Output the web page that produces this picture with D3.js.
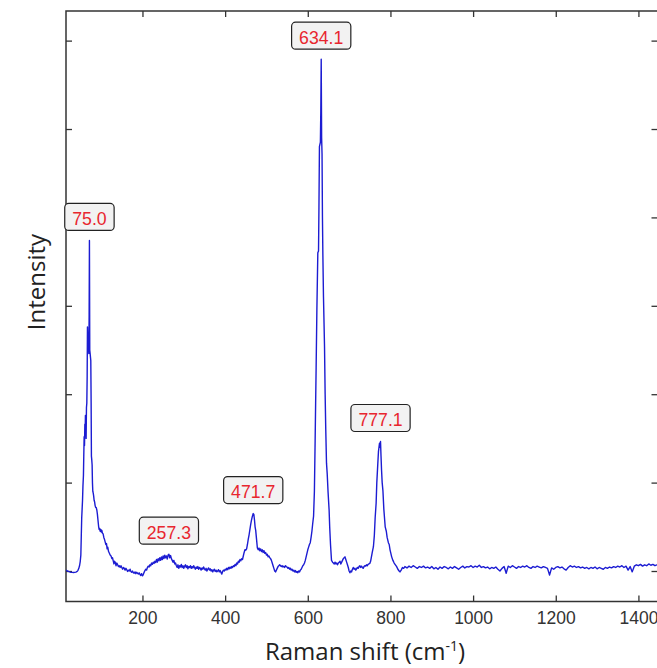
<!DOCTYPE html>
<html>
<head>
<meta charset="utf-8">
<script src="https://cdn.jsdelivr.net/npm/d3@7"></script>
<style>
  body { margin: 0; background: #fff; }
  svg { display: block; }
  .tick line { stroke: #333; stroke-width: 1.3; }
  .tick text { font-family: "Liberation Sans", Arial, sans-serif; font-size: 17.5px; fill: #333; }
</style>
</head>
<body>
<div id="chart"></div>
<script>
// Raman spectrum, values
var ramanShift = [
  15, 18, 21, 24, 27, 30, 33, 36, 39, 42, 44, 46, 48, 49.5, 50.9, 52, 53, 54, 55, 56, 57.2, 58, 58.9, 59.8,
  60.6, 61.3, 62, 62.8, 63.7, 64.5, 65.4, 66.2, 66.9, 67.7, 68.5, 69.3, 70.2, 71, 71.7, 72.5, 73.4, 74.2,
  75, 75.8, 76.5, 77.3, 78.2, 79, 79.9, 80.9, 81.9, 83, 84.3, 85.5, 86.7, 88, 89.6, 91, 92.7, 94, 95.2,
  96.5, 97.6, 99, 100.5, 101.7, 103, 104.8, 106.5, 108, 109.7, 111.5, 113, 114.5, 116, 118, 120, 121.8,
  124, 126, 127.5, 129, 131, 132.5, 134, 136, 138, 140, 142, 144, 146, 148, 150, 152, 154, 156, 158, 160,
  162, 164, 166, 168, 170, 172, 174, 176, 178, 180, 182, 184, 186, 188, 190, 192, 194, 196, 198, 200,
  202, 204, 206, 208, 210, 212, 214, 216, 218, 220, 222, 224, 226, 228, 230, 232, 234, 236, 238, 240,
  242, 244, 246, 248, 250, 252, 254, 256, 258, 260, 262, 264, 266, 268, 270, 272, 274, 276, 278, 280,
  282, 284, 286, 288, 290, 292, 294, 296, 298, 300, 302, 304, 306, 308, 310, 312, 314, 316, 318, 320,
  322, 324, 326, 328, 330, 332, 334, 336, 338, 340, 342, 344, 346, 348, 350, 352, 354, 356, 358, 360,
  362, 364, 366, 368, 370, 372, 374, 376, 378, 380, 382, 384, 386, 388, 390, 392, 394, 396, 398, 400,
  402, 404, 406, 408, 410, 412, 414, 416, 418, 420, 422, 424, 426, 428, 430, 432, 434, 436, 438, 440,
  442, 444, 446, 448, 450, 452, 454, 456, 458, 460, 462, 464, 466, 468, 469.5, 471, 472.5, 474, 476, 478,
  480, 482, 484, 486, 488, 490, 492, 494, 496, 498, 500, 502, 504, 506, 508, 510, 512, 514, 516, 518,
  520, 522, 524, 526, 528, 530, 532, 534, 536, 538, 540, 542, 544, 546, 548, 550, 552, 554, 556, 558,
  560, 562, 564, 566, 568, 570, 572, 574, 576, 578, 580, 582, 584, 586, 588, 590, 592, 594, 596, 598,
  600, 602, 604, 606, 608, 610, 612, 614, 616, 617.8, 619, 620.2, 622, 624.3, 626, 627, 628.2, 630.5,
  631.5, 632.5, 633.5, 634.5, 635.5, 636.5, 638, 640.5, 642, 643.5, 645.3, 647, 649, 651.6, 653, 655,
  657.4, 660, 662, 664, 666, 668, 670, 672, 674, 676, 678, 680, 682, 684, 686, 688, 690, 692, 694, 696,
  698, 700, 702, 704, 706, 708, 710, 712, 714, 716, 718, 720, 722, 724, 726, 728, 730, 732, 734, 736,
  738, 740, 742, 744, 746, 748, 750, 752, 754, 756, 758.8, 761, 763, 765.4, 767, 769.5, 771, 773.5, 775,
  776, 777.2, 778.5, 780, 781.8, 784, 787.3, 790, 792, 795, 797, 799, 801, 803, 806, 809, 812, 815, 818,
  821, 823, 826, 829, 832,
  835, 840, 845, 850, 855, 860, 865, 870, 875, 880, 885, 890, 895, 900, 905, 910, 915, 920, 925, 930,
  935, 940, 945, 950, 955, 960, 965, 970, 975, 980, 985, 990, 995, 1000, 1005, 1010, 1015, 1020, 1025,
  1030, 1035, 1040, 1045, 1050, 1055, 1060, 1065, 1070, 1075, 1080, 1085, 1090, 1095, 1100, 1105, 1110,
  1115, 1120, 1125, 1130, 1135, 1140, 1145, 1150, 1155, 1160, 1165, 1170, 1175, 1180, 1185, 1190, 1195,
  1200, 1205, 1210, 1215, 1220, 1225, 1230, 1235, 1240, 1245, 1250, 1255, 1260, 1265, 1270, 1275, 1280,
  1285, 1290, 1295, 1300, 1305, 1310, 1315, 1320, 1325, 1330, 1335, 1340, 1345, 1350, 1355, 1360, 1365,
  1370, 1375, 1380, 1385, 1390, 1395, 1400, 1405, 1410, 1415, 1420, 1425, 1430, 1435, 1440, 1445, 1451
];

var intensity = [
  1011, 1000, 995, 990, 985, 984, 983, 985, 988, 995, 1008, 1030, 1065, 1110, 1180, 1400, 1600, 1700, 1800, 1960, 2080, 2300, 2520, 2420,
  2660, 2550, 2760, 2700, 2500, 2850, 2900, 3200, 3760, 3620, 3700, 3550, 3460, 3900, 4740, 3500, 3460, 3420,
  3380, 2900, 2300, 2260, 2200, 2000, 1900, 1880, 1850, 1800, 1780, 1740, 1720, 1720, 1690, 1640, 1560, 1500, 1470,
  1480, 1450, 1470, 1440, 1460, 1430, 1420, 1380, 1360, 1330, 1300, 1310, 1250, 1270, 1220, 1200, 1180,
  1170, 1140, 1150, 1120, 1080, 1110, 1100, 1060, 1090, 1070, 1050, 1060, 1040, 1060, 1040, 1020, 1040, 1030, 1010, 1030,
  1015, 995, 1010, 1000, 1020, 995, 985, 1000, 980, 975, 990, 970, 985, 975, 965, 980, 960, 950, 970, 945,
  960, 985, 1005, 1020, 1010, 1040, 1055, 1045, 1070, 1060, 1090, 1075, 1100, 1085, 1110, 1095, 1130, 1100, 1140, 1115,
  1150, 1120, 1160, 1130, 1170, 1140, 1180, 1150, 1170, 1135, 1180, 1190, 1150, 1175, 1140, 1120, 1100, 1120, 1080, 1090,
  1060, 1040, 1070, 1030, 1060, 1045, 1075, 1040, 1060, 1030, 1055, 1070, 1040, 1060, 1025, 1050, 1040, 1060, 1030, 1050,
  1035, 1060, 1040, 1020, 1045, 1030, 1050, 1020, 1040, 1030, 1010, 1035, 1020, 1045, 1025, 1010, 1030, 1000, 1020, 1035,
  1010, 1025, 1000, 1015, 990, 1010, 1020, 995, 1010, 990, 1000, 1015, 990, 1005, 985, 965, 995, 1010, 1000, 1020,
  1010, 1030, 1015, 1040, 1025, 1045, 1030, 1050, 1040, 1060, 1050, 1075, 1060, 1090, 1080, 1110, 1100, 1130, 1115, 1140,
  1130, 1170, 1210, 1240, 1235, 1250, 1300, 1360, 1410, 1470, 1530, 1580, 1620, 1650, 1640, 1580, 1500, 1460, 1360, 1260,
  1240, 1260, 1230, 1250, 1220, 1240, 1210, 1230, 1200, 1210, 1180, 1190, 1160, 1170, 1150, 1140, 1120, 1090, 1060, 1030,
  1000, 990, 1010, 1030, 1050, 1060, 1070, 1060, 1050, 1060, 1045, 1055, 1040, 1060, 1050, 1045, 1030, 1040, 1020, 1030,
  1010, 1020, 1000, 1010, 990, 1005, 985, 995, 980, 1000, 990, 1010, 1020, 1040, 1060, 1070, 1090, 1120, 1160, 1200,
  1240, 1270, 1300, 1320, 1380, 1450, 1540, 1620, 1900, 2480, 2900, 3300, 3950, 4600, 4620, 5100, 5800, 5850,
  6200, 6790, 5900, 5720, 5000, 4580, 4100, 3540, 3000, 2600, 2220, 2100, 1900, 1690, 1500, 1300,
  1120, 1100, 1090, 1080, 1100, 1080, 1090, 1070, 1090, 1100, 1110, 1080, 1100, 1120, 1140, 1150, 1160, 1130, 1100, 1070,
  1040, 1000, 980, 1000, 990, 1020, 1040, 1020, 1030, 1010, 1025, 1040, 1030, 1050, 1060, 1040, 1055, 1040, 1030, 1050,
  1060, 1055, 1070, 1060, 1075, 1080, 1085, 1110, 1160, 1210, 1275, 1400, 1600, 1770, 2000, 2220, 2350, 2445, 2400,
  2465, 2300, 2140, 2000, 1910, 1700, 1500, 1450, 1380, 1320, 1300, 1240, 1200, 1160, 1120, 1090, 1070, 1050, 1020,
  1000, 990, 1010, 1040, 1030,
  1050, 1035, 1055, 1040, 1060, 1045, 1030, 1050, 1040, 1055, 1035, 1045, 1030, 1050, 1025, 1040, 1020, 1045, 1030, 1050,
  1040, 1025, 1045, 1030, 1050, 1035, 1020, 1040, 1055, 1035, 1050, 1045, 1060, 1040, 1055, 1045, 1065, 1040, 1050,
  1035, 1045, 1025, 1040, 1030, 1045, 1020, 1000, 1030, 1050, 975, 1055, 1040, 1060, 1045, 1030, 1050,
  1040, 1055, 1045, 1060, 1040, 1030, 1050, 1040, 1055, 1045, 1035, 1050, 1040, 1030, 955, 1035, 1020,
  1040, 1050, 1035, 1045, 1025, 1010, 1040, 1060, 1045, 1055, 1040, 1050, 1035, 1045, 1030, 1040, 1025,
  1040, 1030, 1045, 1025, 1040, 1030, 1020, 1040, 1030, 1045, 1035, 1050, 1040, 1055, 1045, 1060, 1040,
  1055, 1010, 1050, 990, 1055, 1070, 1060, 1075, 1055, 1070, 1060, 1080, 1065, 1075, 1060, 1070, 1065
];

var peakLabels = [75.0, 257.3, 471.7, 634.1, 777.1];
var xTickValues = [200, 400, 600, 800, 1000, 1200, 1400];
var yTickValues = [1000, 2000, 3000, 4000, 5000, 6000, 7000];

var width = 657, height = 668;
var plotLeft = 66, plotRight = 659.5, plotTop = 11, plotBottom = 601.5;

var svg = d3.select("#chart").append("svg")
    .attr("width", width)
    .attr("height", height);

var x = d3.scaleLinear().domain([15, 1451]).range([plotLeft, plotRight]);
var y = d3.scaleLinear().domain([655, 7335]).range([plotBottom, plotTop]);

// ticks on all four sides, pointing inward
svg.append("g")
    .attr("transform", "translate(0," + plotBottom + ")")
    .call(d3.axisBottom(x).tickValues(xTickValues).tickSize(-6).tickPadding(10).tickFormat(d3.format("d")));
svg.append("g")
    .attr("transform", "translate(0," + plotTop + ")")
    .call(d3.axisTop(x).tickValues(xTickValues).tickSize(-6).tickFormat(""));
svg.append("g")
    .attr("transform", "translate(" + plotLeft + ",0)")
    .call(d3.axisLeft(y).tickValues(yTickValues).tickSize(-6).tickFormat(""));
svg.append("g")
    .attr("transform", "translate(" + plotRight + ",0)")
    .call(d3.axisRight(y).tickValues(yTickValues).tickSize(-8).tickFormat(""));
svg.selectAll(".domain").remove();

svg.append("rect")
    .attr("x", plotLeft).attr("y", plotTop)
    .attr("width", plotRight - plotLeft).attr("height", plotBottom - plotTop)
    .attr("fill", "none")
    .attr("stroke", "#333")
    .attr("stroke-width", 1.5);

svg.append("clipPath").attr("id", "plotclip")
  .append("rect")
    .attr("x", plotLeft).attr("y", plotTop)
    .attr("width", plotRight - plotLeft).attr("height", plotBottom - plotTop);

var spectrum = ramanShift.map(function(s, i) { return [s, intensity[i]]; });

var line = d3.line()
    .x(function(d) { return x(d[0]); })
    .y(function(d) { return y(d[1]); });

svg.append("path")
    .datum(spectrum)
    .attr("clip-path", "url(#plotclip)")
    .attr("fill", "none")
    .attr("stroke", "#1c1cd2")
    .attr("stroke-width", 1.4)
    .attr("stroke-linejoin", "round")
    .attr("d", line);

// peak labels sit just above the highest point near each labelled shift
peakLabels.forEach(function(p) {
    var near = spectrum.filter(function(d) { return Math.abs(d[0] - p) <= 12; });
    var best = d3.greatest(near, function(d) { return d[1]; });
    var cx = x(best[0]), by = y(best[1]) - 10;

    var g = svg.append("g");
    var rect = g.append("rect");
    var txt = g.append("text")
        .attr("x", cx)
        .attr("y", by - 5.5)
        .attr("text-anchor", "middle")
        .style("font-family", "'Liberation Sans', Arial, sans-serif")
        .style("font-size", "19px")
        .attr("fill", "#e8262e")
        .text(p.toFixed(1));
    var w = txt.node().getComputedTextLength() * 0.93;
    txt.attr("textLength", w).attr("lengthAdjust", "spacingAndGlyphs");
    var bw = w + 15;
    rect.attr("x", cx - bw / 2)
        .attr("y", by - 27)
        .attr("width", bw)
        .attr("height", 27)
        .attr("rx", 4)
        .attr("fill", "#f2f2f2")
        .attr("stroke", "#222")
        .attr("stroke-width", 1.2);
});

// axis titles
svg.append("text")
    .attr("transform", "translate(45,282) rotate(-90)")
    .attr("text-anchor", "middle")
    .style("font-family", "'Open Sans', sans-serif")
    .style("font-size", "24px")
    .attr("fill", "#222")
    .text("Intensity");

var xt = svg.append("text")
    .attr("x", 365)
    .attr("y", 660)
    .attr("text-anchor", "middle")
    .style("font-family", "'Open Sans', sans-serif")
    .style("font-size", "24px")
    .attr("fill", "#222");
xt.append("tspan").text("Raman shift (cm");
xt.append("tspan").attr("dy", -9).style("font-size", "14px").text("-1");
xt.append("tspan").attr("dy", 9).text(")");
</script>
</body>
</html>
